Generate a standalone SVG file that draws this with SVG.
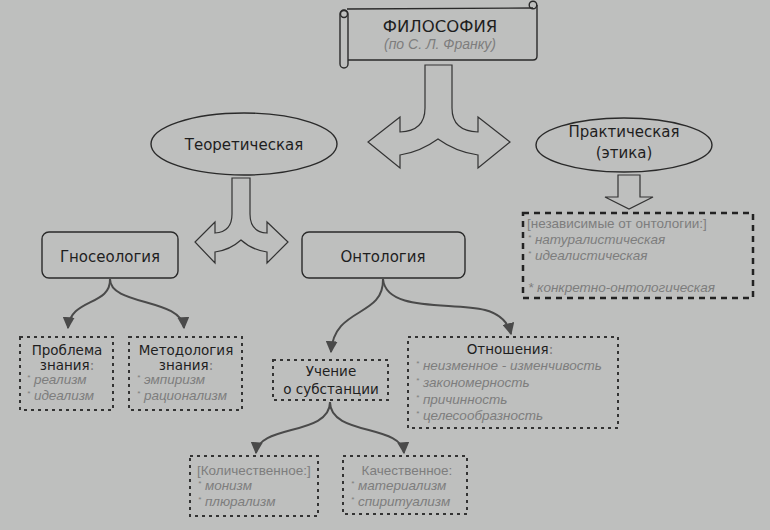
<svg xmlns="http://www.w3.org/2000/svg" width="770" height="530" viewBox="0 0 770 530">
<defs>
<marker id="ah" viewBox="0 0 10 10" refX="9" refY="5" markerWidth="6" markerHeight="6" orient="auto" markerUnits="strokeWidth">
<path d="M0 0 L10 5 L0 10 Z" fill="#4a4a4a"/>
</marker>
<style>
.bg{fill:#bebfbe}
.sh{fill:none;stroke:#2a2a2a;stroke-width:1.4}
.ar{fill:none;stroke:#333;stroke-width:1.2}
.box{fill:#bebfbe;stroke:#2a2a2a;stroke-width:1.4}
.dot{fill:none;stroke:#333;stroke-width:2;stroke-dasharray:3 4}
.dash{fill:none;stroke:#222;stroke-width:2.5;stroke-dasharray:6 5}
.con{fill:none;stroke:#4a4a4a;stroke-width:2;marker-end:url(#ah)}
.t{font-family:"DejaVu Sans",sans-serif;fill:#1e1e1e}
.big{font-size:15px}
.mid{font-size:13.5px}
.g{font-family:"Liberation Sans",sans-serif;font-size:13.5px;fill:#7d7d7d}
.i{font-style:italic}
.b{font-size:8px}
</style>
</defs>
<rect class="bg" x="0" y="0" width="770" height="530"/>

<g id="philosophy">
<path class="sh" d="M347 9 L533 8 M537 5 L537 56 Q537 60 533 60 L348 60"/>
<rect class="sh" x="340" y="10" width="8" height="58" rx="4"/>
<circle class="sh" cx="344" cy="14" r="3.5"/>
<circle class="sh" cx="533" cy="5" r="3.8"/>
<text class="t" x="440" y="32" font-size="16.5" text-anchor="middle">ФИЛОСОФИЯ</text>
<text class="g i" x="440" y="49" style="font-size:14px" text-anchor="middle">(по С. Л. Франку)</text>
</g>

<g id="split-main">
<path class="ar" d="M425 65 L452 65 L452 108 Q452 131 478 132 L478 117 L510 142 L478 168 L478 155 Q456 152 438 139 Q420 152 400 155 L400 168 L368 142 L400 117 L400 132 Q425 131 425 108 Z"/>
</g>

<g id="theoretical">
<ellipse class="sh" cx="244" cy="144" rx="93" ry="31"/>
<text class="t big" x="244" y="150" text-anchor="middle">Теоретическая</text>
</g>

<g id="practical">
<ellipse class="sh" cx="624" cy="145" rx="88" ry="27"/>
<text class="t big" x="624" y="137" text-anchor="middle">Практическая</text>
<text class="t big" x="624" y="158" text-anchor="middle">(этика)</text>
</g>

<g id="split-theoretical">
<path class="ar" d="M232 178 L250 178 L250 214 Q250 232 267 233 L267 222 L288 242 L267 263 L267 252 Q252 250 241 240 Q230 250 215 252 L215 263 L195 242 L215 222 L215 233 Q232 232 232 214 Z"/>
</g>

<g id="arrow-practical">
<path class="ar" d="M618 175 L640 175 L640 197 L653 197 L629 209 L605 197 L618 197 Z"/>
</g>

<g id="ethics-list">
<rect class="dash" x="523" y="213" width="230" height="85"/>
<text class="g" x="527" y="228">[независимые от онтологии:]</text>
<text class="g i" x="528" y="244"><tspan class="b" dy="-4">*</tspan><tspan dy="4"> натуралистическая</tspan></text>
<text class="g i" x="528" y="260"><tspan class="b" dy="-4">*</tspan><tspan dy="4"> идеалистическая</tspan></text>
<text class="g i" x="528" y="292">* конкретно-онтологическая</text>
</g>

<g id="gnoseology">
<rect class="box" x="42" y="232" width="136" height="46" rx="7"/>
<text class="t big" x="110" y="262" text-anchor="middle">Гносеология</text>
</g>

<g id="ontology">
<rect class="box" x="302" y="232" width="163" height="46" rx="7"/>
<text class="t big" x="383" y="262" text-anchor="middle">Онтология</text>
</g>

<g id="connectors">
<path class="con" d="M110 279 C111 306 70 298 68 328"/>
<path class="con" d="M110 279 C110 306 182 298 184 328"/>
<path class="con" d="M383 279 C384 318 334 306 331 352"/>
<path class="con" d="M383 279 C386 312 450 302 485 310 C500 314 508 322 511 334"/>
<path class="con" d="M330 402 C330 436 258 424 256 453"/>
<path class="con" d="M330 402 C330 436 402 424 404 453"/>
</g>

<g id="problem">
<rect class="dot" x="20" y="337" width="93" height="73"/>
<text class="t mid" x="67" y="355" text-anchor="middle">Проблема</text>
<text class="t mid" x="67" y="370" text-anchor="middle">знания<tspan fill="#7a7a7a">:</tspan></text>
<text class="g i" x="27" y="384"><tspan class="b" dy="-4">*</tspan><tspan dy="4"> реализм</tspan></text>
<text class="g i" x="27" y="400"><tspan class="b" dy="-4">*</tspan><tspan dy="4"> идеализм</tspan></text>
</g>

<g id="methodology">
<rect class="dot" x="129" y="337" width="113" height="73"/>
<text class="t mid" x="186" y="355" text-anchor="middle">Методология</text>
<text class="t mid" x="186" y="370" text-anchor="middle">знания<tspan fill="#7a7a7a">:</tspan></text>
<text class="g i" x="137" y="384"><tspan class="b" dy="-4">*</tspan><tspan dy="4"> эмпиризм</tspan></text>
<text class="g i" x="137" y="400"><tspan class="b" dy="-4">*</tspan><tspan dy="4"> рационализм</tspan></text>
</g>

<g id="substance">
<rect class="dot" x="273" y="360" width="115" height="40"/>
<text class="t mid" x="331" y="376" text-anchor="middle">Учение</text>
<text class="t mid" x="331" y="394" text-anchor="middle">о субстанции</text>
</g>

<g id="relations">
<rect class="dot" x="408" y="337" width="210" height="91"/>
<text class="t mid" x="510" y="354" text-anchor="middle">Отношения<tspan fill="#7a7a7a">:</tspan></text>
<text class="g i" x="416" y="370"><tspan class="b" dy="-4">*</tspan><tspan dy="4"> неизменное - изменчивость</tspan></text>
<text class="g i" x="416" y="387"><tspan class="b" dy="-4">*</tspan><tspan dy="4"> закономерность</tspan></text>
<text class="g i" x="416" y="404"><tspan class="b" dy="-4">*</tspan><tspan dy="4"> причинность</tspan></text>
<text class="g i" x="416" y="420"><tspan class="b" dy="-4">*</tspan><tspan dy="4"> целесообразность</tspan></text>
</g>

<g id="quantitative">
<rect class="dot" x="190" y="456" width="128" height="60"/>
<text class="g" x="197" y="475">[Количественное:]</text>
<text class="g i" x="198" y="490"><tspan class="b" dy="-4">*</tspan><tspan dy="4"> монизм</tspan></text>
<text class="g i" x="198" y="506"><tspan class="b" dy="-4">*</tspan><tspan dy="4"> плюрализм</tspan></text>
</g>

<g id="qualitative">
<rect class="dot" x="343" y="456" width="124" height="58"/>
<text class="g" x="407" y="475" text-anchor="middle">Качественное:</text>
<text class="g i" x="351" y="490"><tspan class="b" dy="-4">*</tspan><tspan dy="4"> материализм</tspan></text>
<text class="g i" x="351" y="506"><tspan class="b" dy="-4">*</tspan><tspan dy="4"> спиритуализм</tspan></text>
</g>
</svg>
